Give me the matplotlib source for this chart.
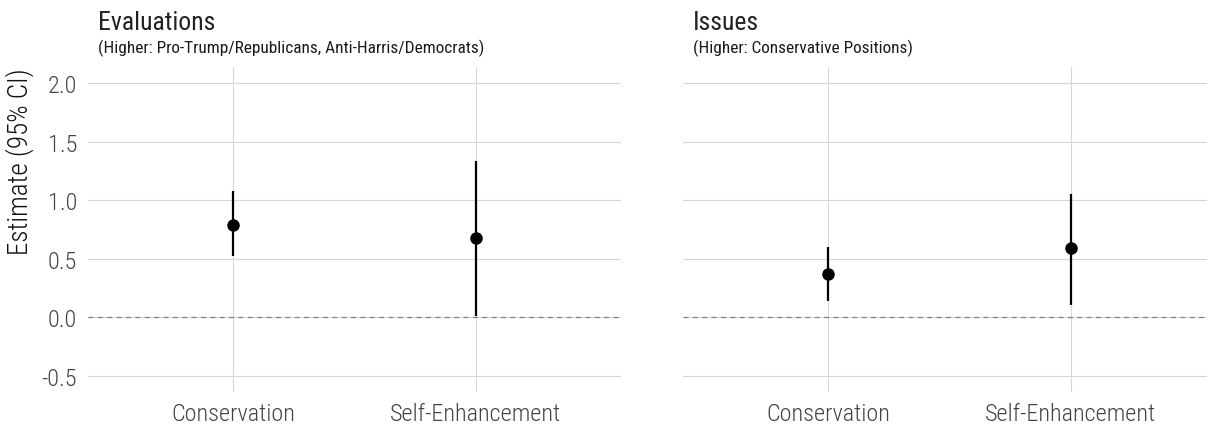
import matplotlib
matplotlib.use("Agg")
import matplotlib.pyplot as plt
from matplotlib import font_manager

# Pick a condensed sans if available
available = {f.name for f in font_manager.fontManager.ttflist}
family = next((f for f in ["Roboto Condensed", "Roboto", "DejaVu Sans"] if f in available), "DejaVu Sans")
plt.rcParams["font.family"] = [family, "DejaVu Sans"]

# Data
categories = ["Conservation", "Self-Enhancement"]
eval_est = [0.79, 0.68]
eval_lo = [0.52, 0.01]
eval_hi = [1.08, 1.33]
issue_est = [0.37, 0.59]
issue_lo = [0.14, 0.11]
issue_hi = [0.60, 1.055]
yticks = [-0.5, 0.0, 0.5, 1.0, 1.5, 2.0]
ytick_labels = ["-0.5", "0.0", "0.5", "1.0", "1.5", "2.0"]

titles = ["Evaluations", "Issues"]
subtitles = ["(Higher: Pro-Trump/Republicans, Anti-Harris/Democrats)",
             "(Higher: Conservative Positions)"]

W, H = 1207, 427
fig = plt.figure(figsize=(W / 100, H / 100), dpi=100)

def px_axes(left, right, top, bottom):
    return fig.add_axes([left / W, 1 - bottom / H, (right - left) / W, (bottom - top) / H])

ax1 = px_axes(88, 621, 68, 393)
ax2 = px_axes(683, 1207, 68, 393)

grid_col = "#D6D6D6"
tick_col = "#444444"
ymin, ymax = -0.635, 2.135

panels = [
    (ax1, eval_est, eval_lo, eval_hi, (0.4, 2.6)),
    (ax2, issue_est, issue_lo, issue_hi, (0.4, 0.4 + 524 / 242.3)),
]

for i, (ax, est, lo, hi, xl) in enumerate(panels):
    x = list(range(1, len(categories) + 1))
    ax.set_xlim(*xl)
    ax.set_ylim(ymin, ymax)
    for s in ax.spines.values():
        s.set_visible(False)
    ax.set_xticks(x)
    ax.set_xticklabels(categories, fontweight="light")
    ax.set_yticks(yticks)
    ax.set_yticklabels(ytick_labels, fontweight="light")
    ax.tick_params(length=0, labelsize=17.5, labelcolor=tick_col, pad=8)
    ax.tick_params(axis="x", pad=7)
    ax.grid(True, color=grid_col, linewidth=0.8)
    ax.set_axisbelow(True)
    if i == 1:
        ax.set_yticklabels([])
    ax.axhline(0, color="#808080", linewidth=0.9, linestyle=(0, (4, 3.5)), zorder=2)
    ax.vlines(x, lo, hi, color="black", linewidth=1.6, zorder=3)
    ax.plot(x, est, "o", color="black", markersize=8, zorder=4)
    ax.text(10 / (ax.get_position().width * W), 1 + 38 / 325, titles[i],
            transform=ax.transAxes, fontsize=18.5, color="#222222",
            va="baseline", ha="left")
    ax.text(10 / (ax.get_position().width * W), 1 + 15 / 325, subtitles[i],
            transform=ax.transAxes, fontsize=12.4, color="#1A1A1A", va="baseline", ha="left")

ax1.set_ylabel("Estimate (95% CI)", fontsize=19.5, color="#111111", fontweight="light",
               loc="top", labelpad=5)

fig.savefig("out.png", dpi=100, facecolor="white")
